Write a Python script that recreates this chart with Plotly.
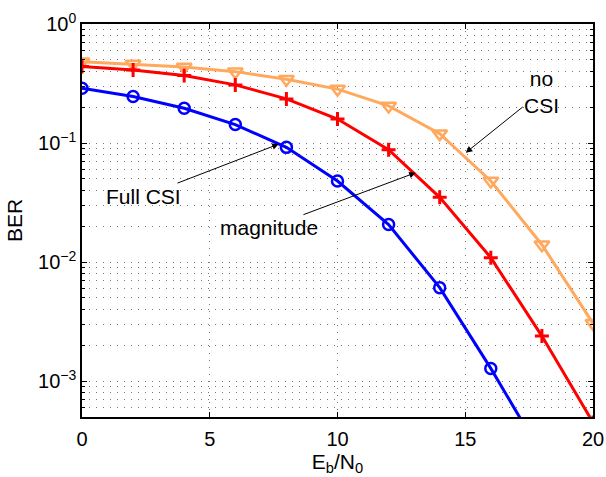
import plotly.graph_objects as go
import numpy as np

ebn0 = [0, 2, 4, 6, 8, 10, 12, 14, 16, 18, 20]
ber_full = [0.289, 0.246, 0.196, 0.143, 0.092, 0.048, 0.0207, 0.0061, 0.00128, 0.00024, None]
ber_mag = [0.439, 0.411, 0.369, 0.308, 0.235, 0.159, 0.088, 0.035, 0.0109, 0.00239, 0.00045]
ber_no = [0.483, 0.462, 0.436, 0.398, 0.344, 0.284, 0.205, 0.12, 0.048, 0.014, 0.00306]

ytick_vals = [1e-3, 1e-2, 1e-1, 1]
ytick_text = ["10<sup>−3</sup>", "10<sup>−2</sup>", "10<sup>−1</sup>", "10<sup>0</sup>"]
xtick_vals = [0, 5, 10, 15, 20]

FONT = "Liberation Sans, Arial, Helvetica, sans-serif"

fig = go.Figure()
fig.add_trace(go.Scatter(x=ebn0, y=ber_no, mode="lines+markers", name="no CSI",
                         line=dict(color="#FFA95E", width=3),
                         marker=dict(symbol="triangle-down-open", size=13,
                                     line=dict(color="#FFA95E", width=2.5))))
fig.add_trace(go.Scatter(x=ebn0, y=ber_mag, mode="lines+markers", name="magnitude",
                         line=dict(color="#FF0000", width=3),
                         marker=dict(symbol="cross-thin", size=10,
                                     line=dict(color="#FF0000", width=3))))
fig.add_trace(go.Scatter(x=ebn0, y=ber_full, mode="lines+markers", name="Full CSI",
                         line=dict(color="#0000FF", width=3),
                         marker=dict(symbol="circle-open", size=11,
                                     line=dict(color="#0000FF", width=2.5))))

grid_dash = "1px,6px"
fig.update_xaxes(range=[0, 20], tickvals=xtick_vals, ticks="inside", ticklen=5,
                 tickcolor="black", showline=True, linecolor="black", linewidth=1.5,
                 mirror="ticks", showgrid=True, gridcolor="#777777", gridwidth=1,
                 griddash=grid_dash, zeroline=False, automargin=False,
                 ticklabelstandoff=3,
                 tickfont=dict(family=FONT, size=20, color="black"),
                 title=dict(text="E<sub>b</sub>/N<sub>0</sub>", standoff=4,
                            font=dict(family=FONT, size=21, color="black")))
fig.update_yaxes(type="log", range=[np.log10(5e-4), 0], tickvals=ytick_vals,
                 ticktext=ytick_text, ticks="inside", ticklen=5, tickcolor="black",
                 showline=True, linecolor="black", linewidth=1.5, mirror="ticks",
                 showgrid=True, gridcolor="#777777", gridwidth=1, griddash=grid_dash,
                 zeroline=False, automargin=False,
                 minor=dict(dtick="D1", ticks="inside", ticklen=3, tickcolor="black",
                            showgrid=True, gridcolor="#777777", gridwidth=1,
                            griddash=grid_dash),
                 tickfont=dict(family=FONT, size=20, color="black"),
                 title=dict(text="BER", standoff=10,
                            font=dict(family=FONT, size=21, color="black")))

ann_font = dict(family=FONT, size=21, color="black")
fig.add_annotation(x=7.7, y=np.log10(0.098), xref="x", yref="y", text="Full CSI",
                   showarrow=True, ax=-135, ay=52, arrowhead=2, arrowsize=1.3,
                   arrowwidth=1, arrowcolor="black", font=ann_font)
fig.add_annotation(x=13.06, y=np.log10(0.0564), xref="x", yref="y", text="magnitude",
                   showarrow=True, ax=-147, ay=55, arrowhead=2, arrowsize=1.3,
                   arrowwidth=1, arrowcolor="black", font=ann_font)
fig.add_annotation(x=15.02, y=np.log10(0.083), xref="x", yref="y", text="no<br>CSI",
                   showarrow=True, ax=76, ay=-61, arrowhead=2, arrowsize=1.3,
                   arrowwidth=1, arrowcolor="black", font=ann_font)

fig.update_layout(width=606, height=477, margin=dict(l=82, r=13, t=24, b=60),
                  plot_bgcolor="white", paper_bgcolor="white", showlegend=False,
                  font=dict(family=FONT, size=20, color="black"))

# remove the page's default 8px body margin so the figure fills the window exactly
fig.write_html("out.html", config={"displayModeBar": False},
               post_script="document.body.style.margin='0';")
